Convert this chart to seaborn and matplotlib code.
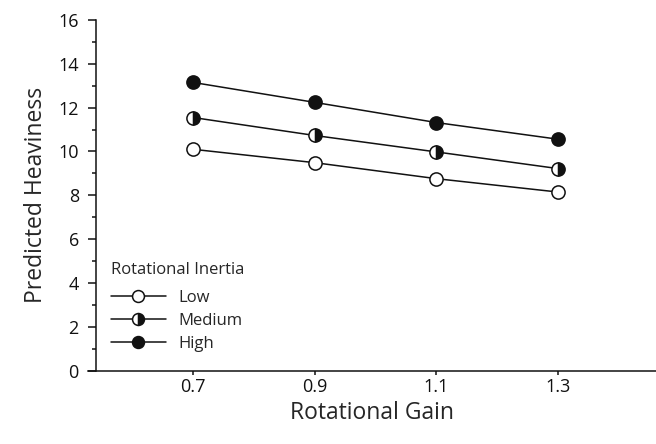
import pandas as pd
import seaborn as sns
import matplotlib.pyplot as plt

# valores
ganho = [0.7, 0.9, 1.1, 1.3]
inercia = ['Low', 'Medium', 'High']
peso_low = [10.1, 9.49, 8.76, 8.15]
peso_medium = [11.55, 10.73, 9.98, 9.22]
peso_high = [13.15, 12.24, 11.32, 10.56]

df = pd.DataFrame({
    'gain': ganho * 3,
    'heaviness': peso_low + peso_medium + peso_high,
    'inertia': [n for n in inercia for _ in ganho],
})

sns.set_style('ticks')
plt.rcParams['font.family'] = ['Open Sans', 'DejaVu Sans']

fig = plt.figure(figsize=(6.56, 4.44), dpi=100)
ax = fig.add_axes([0.1341, 0.1651, 0.8659, 0.7899])

# estilo de cada marcador: vazio, meio preenchido, cheio
estilos = {
    'Low': dict(markerfacecolor='white', fillstyle='full'),
    'Medium': dict(markerfacecolor='#111111', markerfacecoloralt='white', fillstyle='right'),
    'High': dict(markerfacecolor='#111111', fillstyle='full'),
}

for nome in inercia:
    sub = df[df['inertia'] == nome]
    sns.lineplot(data=sub, x='gain', y='heaviness', ax=ax, color='#111111',
                 linewidth=1.1, marker='o', markersize=9.5, markeredgecolor='#111111',
                 markeredgewidth=1.1, label=nome, **estilos[nome])

ax.set_xlim(0.527, 1.461)
ax.set_ylim(0, 16)
ax.set_xticks(ganho)
ax.set_xticklabels(['0.7', '0.9', '1.1', '1.3'])
ax.set_yticks(range(0, 17, 2))
ax.set_yticks(range(1, 16, 2), minor=True)
ax.spines['left'].set_position(('data', 0.54))
ax.spines['right'].set_visible(False)
ax.spines['top'].set_visible(False)
for s in ['left', 'bottom']:
    ax.spines[s].set_linewidth(1.1)
    ax.spines[s].set_color('#111111')
ax.tick_params(axis='both', which='major', width=1.1, labelsize=13, colors='#111111')
ax.tick_params(axis='x', length=3, pad=2.5)
ax.tick_params(axis='y', which='major', length=5.8, pad=6.5)
ax.tick_params(axis='y', which='minor', length=3.2, width=1.1, colors='#111111')

ax.set_xlabel('Rotational Gain', fontsize=16.5, labelpad=3.5)
ax.set_ylabel('Predicted Heaviness', fontsize=16.5, labelpad=7)

leg = ax.legend(title='Rotational Inertia', loc='upper left', bbox_to_anchor=(0.028, 0.33),
                frameon=False, fontsize=12, title_fontsize=12, handlelength=3.3,
                labelspacing=0.4, handletextpad=0.8, markerscale=0.9, borderaxespad=0)
leg._legend_box.align = 'left'
leg._legend_box.sep = 9.1  # espaço entre o título e as entradas

fig.savefig('out.png', dpi=100)
